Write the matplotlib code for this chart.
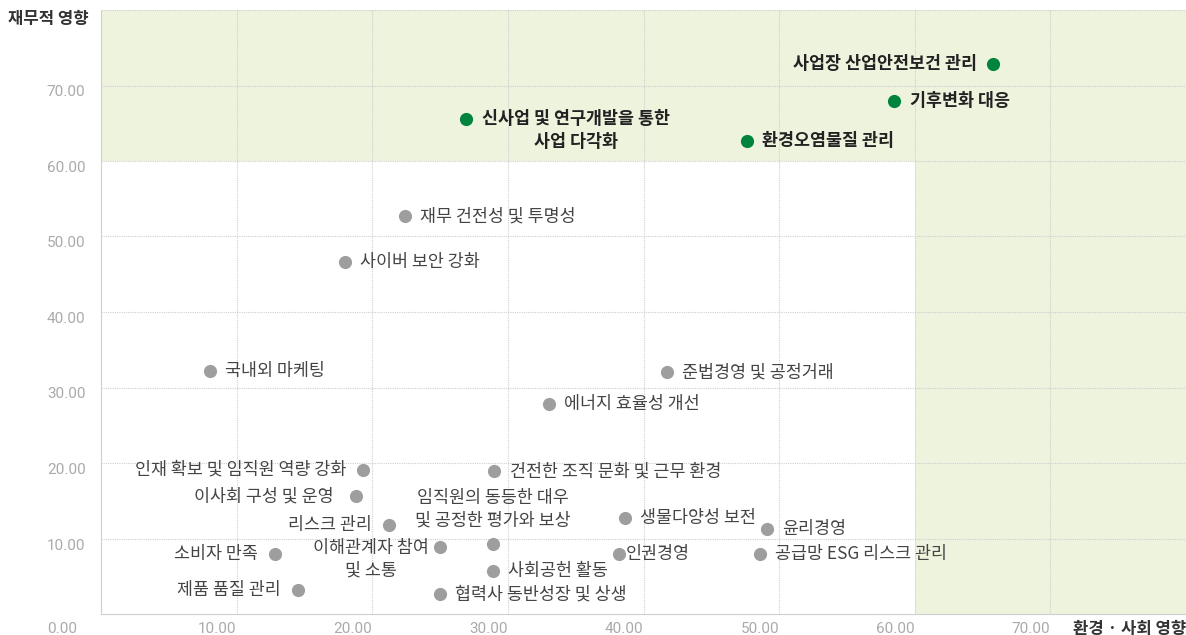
import matplotlib
matplotlib.use("Agg")
import matplotlib.pyplot as plt
from matplotlib.transforms import blended_transform_factory, offset_copy

plt.rcParams['font.family'] = ['Noto Sans CJK KR', 'DejaVu Sans']

# material issues: (environment/social impact, financial impact)
key_names = ["사업장 산업안전보건 관리", "기후변화 대응", "신사업 및 연구개발을 통한\n사업 다각화", "환경오염물질 관리"]
key_x = [65.8, 58.5, 26.9, 47.6]
key_y = [72.9, 67.9, 65.6, 62.6]

other_names = [
    "재무 건전성 및 투명성", "사이버 보안 강화", "국내외 마케팅", "준법경영 및 공정거래",
    "에너지 효율성 개선", "인재 확보 및 임직원 역량 강화", "건전한 조직 문화 및 근무 환경",
    "이사회 구성 및 운영", "생물다양성 보전", "윤리경영", "리스크 관리",
    "임직원의 동등한 대우\n및 공정한 평가와 보상", "이해관계자 참여\n및 소통", "소비자 만족",
    "인권경영", "공급망 ESG 리스크 관리", "사회공헌 활동", "제품 품질 관리", "협력사 동반성장 및 상생",
]
other_x = [22.4, 18.0, 8.0, 41.7, 33.0, 19.3, 29.0, 18.8, 38.6, 49.1, 21.2,
           28.9, 25.0, 12.8, 38.2, 48.6, 28.9, 14.5, 25.0]
other_y = [52.7, 46.6, 32.2, 32.0, 27.8, 19.1, 18.9, 15.6, 12.7, 11.2, 11.8,
           9.3, 8.9, 7.9, 7.9, 7.9, 5.7, 3.2, 2.6]

ticks = [10, 20, 30, 40, 50, 60, 70]
tick_labels = ["10.00", "20.00", "30.00", "40.00", "50.00", "60.00", "70.00"]

# label placement: (dx pt, dy pt, ha)
place = {
    "사업장 산업안전보건 관리": (-12, 0, "right"),
    "이해관계자 참여\n및 소통": (-8, -9, "right"),
    "임직원의 동등한 대우\n및 공정한 평가와 보상": (0, 25, "center"),
    "신사업 및 연구개발을 통한\n사업 다각화": (12, -8.5, "left"),
    "인재 확보 및 임직원 역량 강화": (-12, 0, "right"),
    "이사회 구성 및 운영": (-16, 0, "right"),
    "리스크 관리": (-12, 0, "right"),
    "소비자 만족": (-12, 0, "right"),
    "제품 품질 관리": (-12, 0, "right"),
    "인권경영": (5, 0, "left"),
}

fig = plt.figure(figsize=(11.86, 6.35), dpi=100)
ax = fig.add_axes([101 / 1186, 21 / 635, 1085 / 1186, 604 / 635])
ax.set_xlim(0, 80)
ax.set_ylim(0, 80)

shade = "#eef3dd"
ax.axhspan(60, 80, color=shade, lw=0, zorder=0)
ax.fill_between([60, 80], 0, 60, color=shade, lw=0, zorder=0)

grid_kw = dict(color="#cfcfcf", lw=0.8, ls=(0, (1, 1)), zorder=1)
for t in ticks + [80]:
    ax.axhline(t, **grid_kw)
for t in ticks:
    ax.axvline(t, **grid_kw)

for s in ["top", "right"]:
    ax.spines[s].set_visible(False)
for s in ["left", "bottom"]:
    ax.spines[s].set_color("#cfcfcf")
    ax.spines[s].set_linestyle((0, (1, 1)))
    ax.spines[s].set_linewidth(0.8)

ax.set_xticks(ticks)
ax.set_xticklabels(tick_labels)
ax.set_yticks(ticks)
ax.set_yticklabels(tick_labels)
ax.tick_params(length=0, labelsize=11, labelcolor="#aaaaaa")
for lb in ax.get_xticklabels():
    lb.set_ha("right")
    lb.set_family(["Roboto", "DejaVu Sans"])
ax.tick_params(axis="x", pad=6)
for lb in ax.get_yticklabels():
    lb.set_ha("left")
    lb.set_va("top")
    lb.set_family(["Roboto", "DejaVu Sans"])
ax.tick_params(axis="y", pad=39)

tr = blended_transform_factory(fig.transFigure, ax.transAxes)
ax.text(47 / 1186, 0, "0.00", transform=offset_copy(tr, fig=fig, y=-6, units="points"),
        ha="left", va="top", fontsize=11, color="#aaaaaa", family=["Roboto", "DejaVu Sans"])

ax.text(8 / 1186, 1, "재무적 영향", transform=tr, ha="left", va="top",
        fontsize=12, color="#333333", fontweight="bold")
ax.text(1, 0, "환경 · 사회 영향", transform=offset_copy(ax.transAxes, fig=fig, y=-4, units="points"),
        ha="right", va="top", fontsize=12, color="#333333", fontweight="bold")

ax.scatter(other_x, other_y, s=90, color="#9e9e9e", zorder=3, lw=0)
ax.scatter(key_x, key_y, s=90, color="#00843d", zorder=3, lw=0)

for names, xs, ys, bold in [(other_names, other_x, other_y, False), (key_names, key_x, key_y, True)]:
    for n, x, y in zip(names, xs, ys):
        dx, dy, ha = place.get(n, (11, 0, "left"))
        ax.annotate(n, (x, y), xytext=(dx, dy), textcoords="offset points",
                    ha=ha, va="center", multialignment="center", fontsize=12.5,
                    color="#222222" if bold else "#444444",
                    fontweight="bold" if bold else "normal", linespacing=1.3, zorder=4)

fig.savefig("out.png", dpi=100)
